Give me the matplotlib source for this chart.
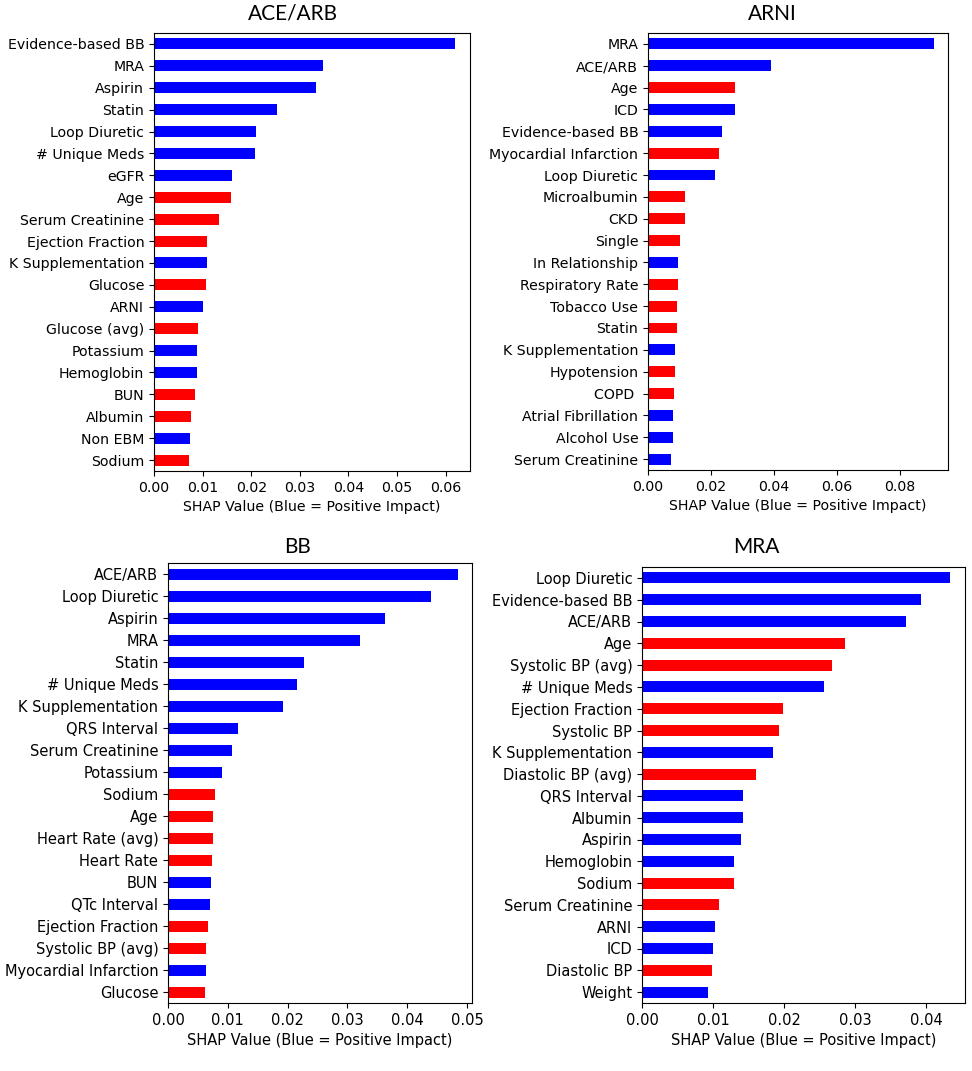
import matplotlib
matplotlib.use("Agg")
import matplotlib.pyplot as plt

W, H = 972, 1071

# ACE/ARB model, top to bottom
ace_features = [
    "Evidence-based BB", "MRA", "Aspirin", "Statin", "Loop Diuretic",
    "# Unique Meds", "eGFR", "Age", "Serum Creatinine", "Ejection Fraction",
    "K Supplementation", "Glucose", "ARNI", "Glucose (avg)", "Potassium",
    "Hemoglobin", "BUN", "Albumin", "Non EBM", "Sodium",
]
ace_values = [
    0.0619, 0.0348, 0.0334, 0.0252, 0.0210,
    0.0207, 0.0161, 0.0159, 0.0133, 0.0110,
    0.0108, 0.0107, 0.0101, 0.0090, 0.0088,
    0.0088, 0.0084, 0.0076, 0.0074, 0.0072,
]
ace_signs = [1, 1, 1, 1, 1, 1, 1, -1, -1, -1, 1, -1, 1, -1, 1, 1, -1, -1, 1, -1]

# ARNI model
arni_features = [
    "MRA", "ACE/ARB", "Age", "ICD", "Evidence-based BB",
    "Myocardial Infarction", "Loop Diuretic", "Microalbumin", "CKD", "Single",
    "In Relationship", "Respiratory Rate", "Tobacco Use", "Statin", "K Supplementation",
    "Hypotension", "COPD ", "Atrial Fibrillation", "Alcohol Use", "Serum Creatinine",
]
arni_values = [
    0.0908, 0.0391, 0.0278, 0.0277, 0.0235,
    0.0226, 0.0212, 0.0119, 0.0118, 0.0103,
    0.0095, 0.0095, 0.0092, 0.0092, 0.0086,
    0.0085, 0.0083, 0.0079, 0.0079, 0.0073,
]
arni_signs = [1, 1, -1, 1, 1, -1, 1, -1, -1, -1, 1, -1, -1, -1, 1, -1, -1, 1, 1, 1]

# BB model
bb_features = [
    "ACE/ARB", "Loop Diuretic", "Aspirin", "MRA", "Statin",
    "# Unique Meds", "K Supplementation", "QRS Interval", "Serum Creatinine", "Potassium",
    "Sodium", "Age", "Heart Rate (avg)", "Heart Rate", "BUN",
    "QTc Interval", "Ejection Fraction", "Systolic BP (avg)", "Myocardial Infarction", "Glucose",
]
bb_values = [
    0.0484, 0.0439, 0.0362, 0.0321, 0.0228,
    0.0216, 0.0192, 0.0117, 0.0107, 0.0091,
    0.0079, 0.0076, 0.0076, 0.0074, 0.0072,
    0.0070, 0.0067, 0.0064, 0.0063, 0.0062,
]
bb_signs = [1, 1, 1, 1, 1, 1, 1, 1, 1, 1, -1, -1, -1, -1, 1, 1, -1, -1, 1, -1]

# MRA model
mra_features = [
    "Loop Diuretic", "Evidence-based BB", "ACE/ARB", "Age", "Systolic BP (avg)",
    "# Unique Meds", "Ejection Fraction", "Systolic BP", "K Supplementation", "Diastolic BP (avg)",
    "QRS Interval", "Albumin", "Aspirin", "Hemoglobin", "Sodium",
    "Serum Creatinine", "ARNI", "ICD", "Diastolic BP", "Weight",
]
mra_values = [
    0.0433, 0.0393, 0.0372, 0.0286, 0.0267,
    0.0256, 0.0199, 0.0193, 0.0185, 0.0160,
    0.0142, 0.0142, 0.0139, 0.0130, 0.0130,
    0.0108, 0.0103, 0.0100, 0.0099, 0.0093,
]
mra_signs = [1, 1, 1, -1, -1, 1, -1, -1, 1, -1, 1, 1, 1, 1, -1, -1, 1, 1, -1, 1]

# pixel boxes (left, top, right, bottom), title centres, font size
panels = [
    ("ACE/ARB", ace_features, ace_values, ace_signs, (154, 33, 470, 471), (293, 14), 10.2),
    ("ARNI", arni_features, arni_values, arni_signs, (648, 33, 948, 470), (772, 14), 10.2),
    ("BB", bb_features, bb_values, bb_signs, (168, 563, 472, 1003), (298, 547), 10.5),
    ("MRA", mra_features, mra_values, mra_signs, (642, 567, 965, 1003), (756, 547), 10.5),
]

fig = plt.figure(figsize=(W / 100, H / 100), dpi=100)

for title, feats, vals, signs, box, tpos, fs in panels:
    l, t, r, b = box
    ax = fig.add_axes([l / W, 1 - b / H, (r - l) / W, (b - t) / H])
    n = len(feats)
    ypos = list(range(n))[::-1]
    colors = ["blue" if s > 0 else "red" for s in signs]
    ax.barh(ypos, vals, height=0.5, color=colors)
    ax.set_yticks(ypos)
    ax.set_yticklabels(feats)
    ax.set_ylim(-0.5, n - 0.5)
    ax.set_xlim(0, max(vals) * 1.05)
    ax.tick_params(labelsize=fs)
    ax.set_xlabel("SHAP Value (Blue = Positive Impact)", fontsize=fs)
    fig.text(tpos[0] / W, 1 - tpos[1] / H, title, ha="center", va="center",
             fontsize=15, family="Lato")

fig.savefig("out.png", dpi=100)
